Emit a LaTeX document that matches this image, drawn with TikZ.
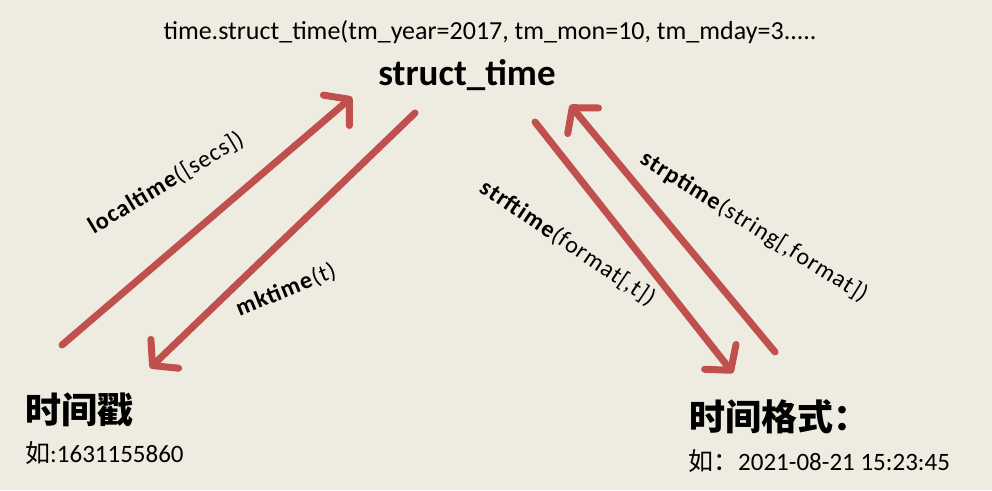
\documentclass[tikz,border=0pt]{standalone}
\usepackage{fontspec}
\setmainfont{Carlito}
\newfontfamily\lblfont{Carlito}[LetterSpace=4]
\newfontfamily\cjk{Noto Sans CJK SC}
\usetikzlibrary{arrows.meta}
\definecolor{bg}{HTML}{EEEBE0}
\definecolor{arr}{HTML}{C0504D}
\begin{document}
\begin{tikzpicture}[x=1pt,y=-1pt,
  conn/.style={draw=arr,line width=7pt,line cap=round,
    -{Straight Barb[length=17pt,width=40pt,round]}},
  lbl/.style={inner sep=0pt,font=\lblfont\fontsize{24}{28}\selectfont},
  txt/.style={inner sep=0pt,anchor=west}]
\fill[bg] (0,0) rectangle (992,490);
\useasboundingbox (0,0) rectangle (992,490);
\node[inner sep=0pt] (top) at (490,32) {\fontsize{26}{30}\selectfont time.struct\_time(tm\_year=2017, tm\_mon=10, tm\_mday=3.....};
\node[inner sep=0pt] (st) at (467,75) {\fontsize{37}{42}\selectfont\bfseries struct\_time};
\coordinate (a1s) at (62,345);  \coordinate (a1e) at (352,97);
\coordinate (a2s) at (415,113); \coordinate (a2e) at (150,368);
\coordinate (a3s) at (535,122); \coordinate (a3e) at (733,373);
\coordinate (a4s) at (775,352); \coordinate (a4e) at (570,105);
\draw[conn] (a1s) -- (a1e);
\draw[conn] (a2s) -- (a2e);
\draw[conn] (a3s) -- (a3e);
\draw[conn] (a4s) -- (a4e);
\node[lbl,rotate=31] (l1) at (166,183) {\textbf{localtime}([secs])};
\node[lbl,rotate=22] (l2) at (286,290) {\textbf{mktime}(t)};
\node[lbl,rotate=-34] (l3) at (568,243) {\textbf{strftime}(format[,t])};
\node[lbl,rotate=-32] (l4) at (754,227) {\textbf{strptime}(string[,format])};
\node[txt] (ts) at (25,410) {\cjk\bfseries\fontsize{36}{40}\selectfont 时间戳};
\node[txt] (tsx) at (25,453) {\fontsize{25}{29}\selectfont{\cjk 如}:1631155860};
\node[txt] (tf) at (689,417) {\cjk\bfseries\fontsize{36}{40}\selectfont 时间格式：};
\node[txt] (tfx) at (688,461) {\fontsize{25}{29}\selectfont{\cjk 如：}2021-08-21 15:23:45};
\end{tikzpicture}
\end{document}
